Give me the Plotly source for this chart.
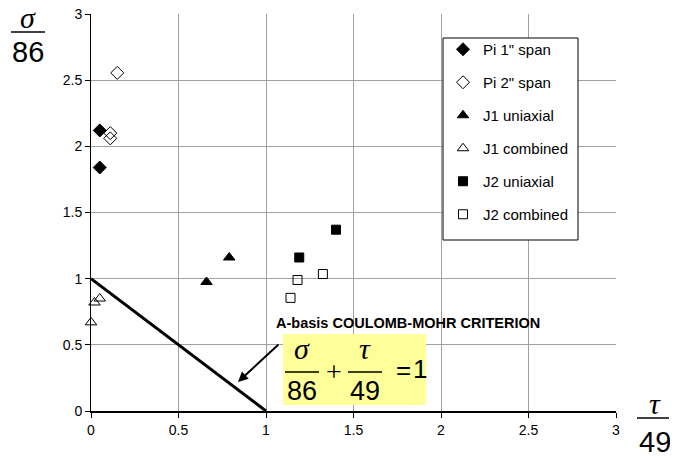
import plotly.graph_objects as go

# ---- data ----
pi1_x = [0.05, 0.05]
pi1_y = [2.12, 1.84]
pi2_x = [0.15, 0.11, 0.11]
pi2_y = [2.555, 2.10, 2.06]
j1u_x = [0.66, 0.79]
j1u_y = [0.975, 1.16]
j1c_x = [0.0, 0.02, 0.05]
j1c_y = [0.67, 0.82, 0.85]
j2u_x = [1.19, 1.40]
j2u_y = [1.16, 1.37]
j2c_x = [1.14, 1.18, 1.325]
j2c_y = [0.855, 0.99, 1.035]
crit_x = [0, 1]
crit_y = [1, 0]
tick_vals = [0, 0.5, 1, 1.5, 2, 2.5, 3]
tick_text = ["0", "0.5", "1", "1.5", "2", "2.5", "3"]

# page body has an 8px margin; build the figure so that it lands on the
# reference's pixel positions inside the 678x459 window
OFF = 8
W, H = 678 - OFF, 459 - OFF
L, R, T, B = 91, 616, 14, 411  # in window pixels


def px(x):
    return (x - L) / (R - L)


def py(y):
    return (B - y) / (B - T)


FONT = "Liberation Sans, Arial, sans-serif"
SERIF = "Liberation Serif, Times New Roman, serif"

fig = go.Figure()

series = [
    ("Pi 1\" span", pi1_x, pi1_y, "diamond", 10),
    ("Pi 2\" span", pi2_x, pi2_y, "diamond-open", 10),
    ("J1 uniaxial", j1u_x, j1u_y, "triangle-up", 10),
    ("J1 combined", j1c_x, j1c_y, "triangle-up-open", 10),
    ("J2 uniaxial", j2u_x, j2u_y, "square", 9),
    ("J2 combined", j2c_x, j2c_y, "square-open", 9),
]
for i, (name, xs, ys, sym, sz) in enumerate(series):
    fig.add_trace(go.Scatter(
        x=xs, y=ys, mode="markers", name=name, legendgroup=f"g{i}",
        marker=dict(symbol=sym, size=sz, color="black", line=dict(color="black", width=1)),
        cliponaxis=False,
    ))

fig.add_trace(go.Scatter(
    x=crit_x, y=crit_y, mode="lines", showlegend=False,
    line=dict(color="black", width=3),
))

fig.update_layout(
    width=W, height=H,
    margin=dict(l=L - OFF, r=(W + OFF) - R, t=T - OFF, b=(H + OFF) - B, autoexpand=False),
    paper_bgcolor="white", plot_bgcolor="white",
    font=dict(family=FONT, size=14, color="black"),
    showlegend=True,
    legend=dict(
        x=px(443), y=py(33), xanchor="left", yanchor="top",
        borderwidth=0, bgcolor="rgba(0,0,0,0)",
        font=dict(family=FONT, size=15, color="black"),
        tracegroupgap=10.5, traceorder="grouped",
        entrywidth=100, entrywidthmode="pixels",
    ),
    xaxis=dict(
        range=[0, 3], tickvals=tick_vals, ticktext=tick_text,
        showgrid=True, gridcolor="#a0a0a0", gridwidth=1,
        showline=True, linecolor="black", linewidth=1.5,
        ticks="outside", ticklen=5, tickcolor="black",
        zeroline=False, fixedrange=True, automargin=False,
        ticklabeloverflow="allow",
    ),
    yaxis=dict(
        range=[0, 3], tickvals=tick_vals, ticktext=tick_text,
        showgrid=True, gridcolor="#a0a0a0", gridwidth=1,
        showline=True, linecolor="black", linewidth=1,
        ticks="outside", ticklen=5, tickcolor="black",
        zeroline=False, fixedrange=True, automargin=False,
        ticklabeloverflow="allow",
    ),
)

shapes = []
annots = []

# legend frame
shapes.append(dict(type="rect", xref="paper", yref="paper",
                   x0=px(443), x1=px(578), y0=py(240), y1=py(38),
                   fillcolor="white", line=dict(color="black", width=1), layer="above"))

# yellow box
shapes.append(dict(type="rect", xref="paper", yref="paper",
                   x0=px(283), x1=px(426), y0=py(405), y1=py(334),
                   fillcolor="#ffff99", line=dict(width=0), layer="above"))


def frac(cx, top_y, bar_x0, bar_x1, bar_y, bot_y, sym, num, symsize=28, numsize=26):
    shapes.append(dict(type="line", xref="paper", yref="paper",
                       x0=px(bar_x0), x1=px(bar_x1), y0=py(bar_y), y1=py(bar_y),
                       line=dict(color="black", width=1.5), layer="above"))
    annots.append(dict(xref="paper", yref="paper", x=px(cx), y=py(top_y),
                       text=f"<i>{sym}</i>", showarrow=False,
                       font=dict(family=SERIF, size=symsize, color="black"),
                       xanchor="center", yanchor="middle"))
    annots.append(dict(xref="paper", yref="paper", x=px(cx), y=py(bot_y),
                       text=num, showarrow=False,
                       font=dict(family=FONT, size=numsize, color="black"),
                       xanchor="center", yanchor="middle"))


# axis label fractions
frac(28, 17, 11, 45, 32, 52, "σ", "86", symsize=30, numsize=29)
frac(655, 403, 637, 669, 418, 442, "τ", "49", symsize=30, numsize=29)

# equation in box
frac(302, 348, 285, 319, 372, 391, "σ", "86", symsize=30, numsize=27)
frac(365, 348, 348, 382, 372, 391, "τ", "49", symsize=30, numsize=27)
annots.append(dict(xref="paper", yref="paper", x=px(334), y=py(371), text="+",
                   showarrow=False, font=dict(family=SERIF, size=28, color="black"),
                   xanchor="center", yanchor="middle"))
annots.append(dict(xref="paper", yref="paper", x=px(403), y=py(370), text="=",
                   showarrow=False, font=dict(family=FONT, size=26, color="black"),
                   xanchor="center", yanchor="middle"))
annots.append(dict(xref="paper", yref="paper", x=px(420), y=py(369), text="1",
                   showarrow=False, font=dict(family=FONT, size=26, color="black"),
                   xanchor="center", yanchor="middle"))

# title of criterion
annots.append(dict(xref="paper", yref="paper", x=px(274), y=py(323),
                   text="<b>A-basis COULOMB-MOHR CRITERION</b>",
                   showarrow=False, font=dict(family=FONT, size=14.5, color="black"),
                   xanchor="left", yanchor="middle"))

# arrow
annots.append(dict(xref="x", yref="y", x=(238 - L) / 175.0, y=(B - 382) / 132.33,
                   ax=42, ay=-39, axref="pixel", ayref="pixel", text="",
                   showarrow=True, arrowhead=2, arrowsize=1, arrowwidth=2,
                   arrowcolor="black"))

fig.update_layout(shapes=shapes, annotations=annots)

fig.write_html("out.html")
